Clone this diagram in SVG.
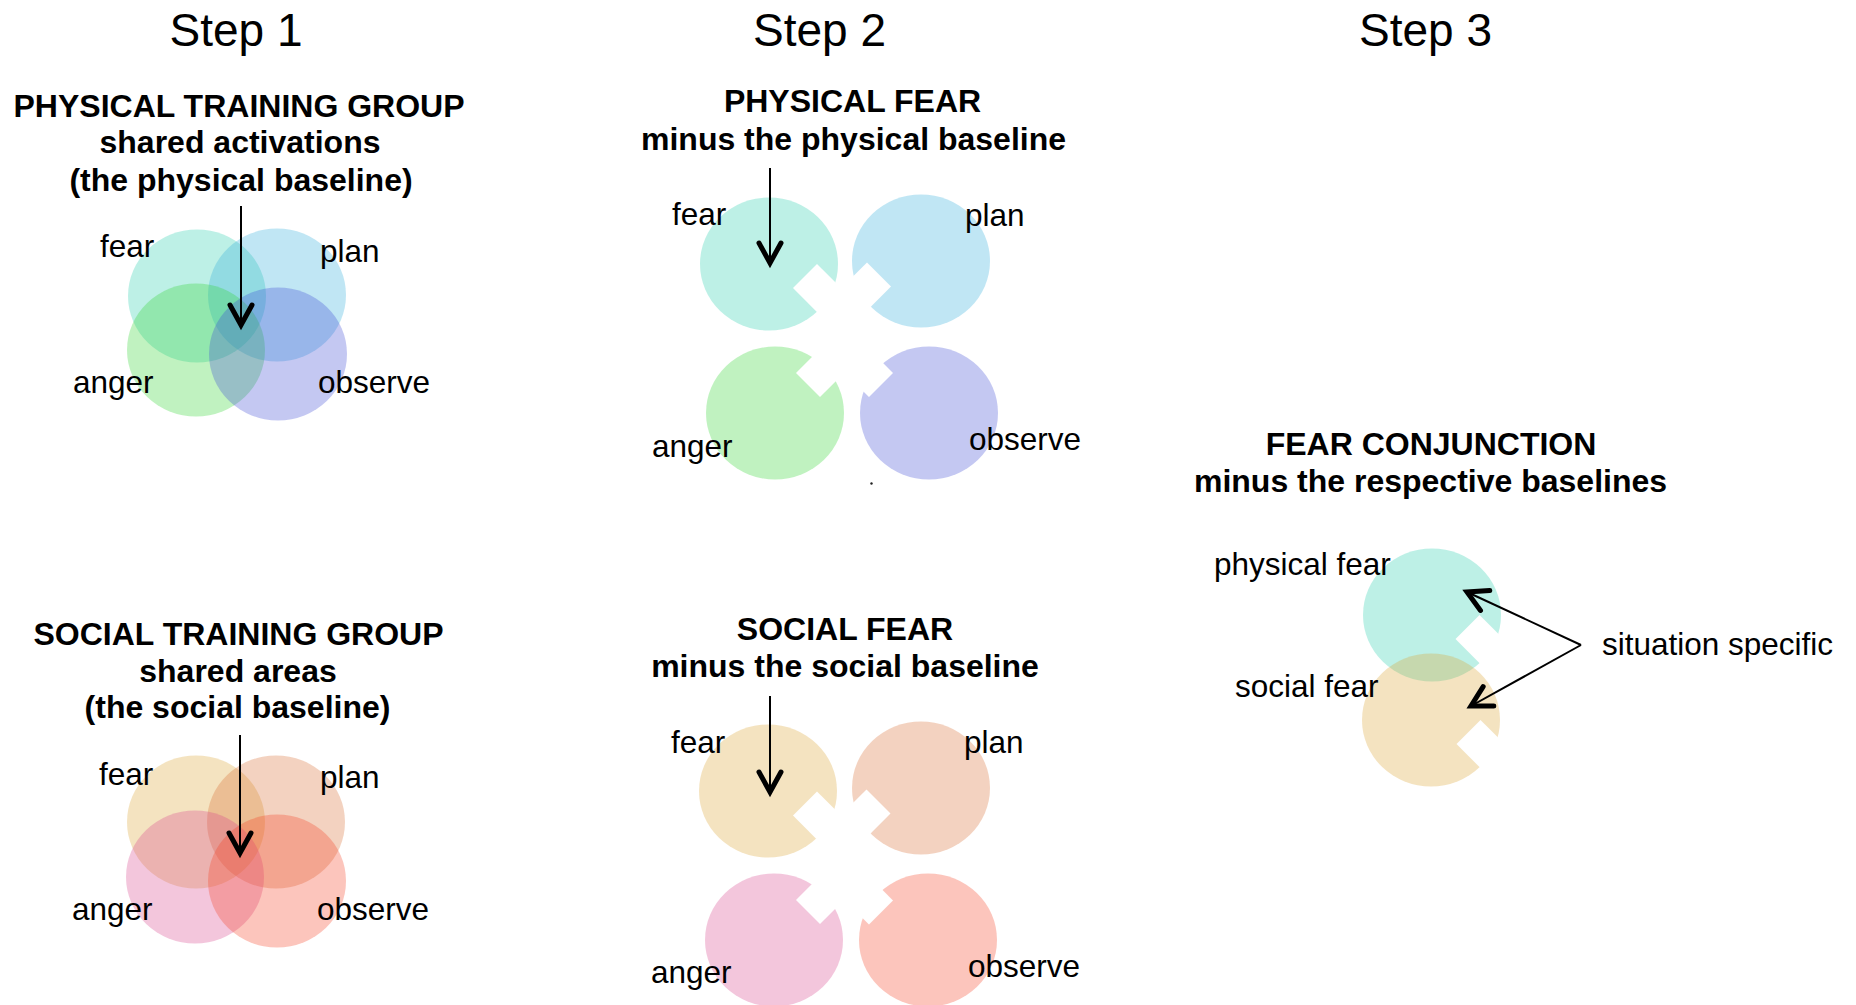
<svg xmlns="http://www.w3.org/2000/svg" width="1856" height="1005" viewBox="0 0 1856 1005">
<style>
text{font-family:"Liberation Sans",Arial,Helvetica,sans-serif;fill:#000}
.title{font-size:46px}
.head{font-size:32px;font-weight:bold;text-anchor:middle}
.lab{font-size:31.5px}
.c{fill-opacity:0.3}
.pf{fill:rgb(35,205,172)}
.pp{fill:rgb(45,172,218)}
.pa{fill:rgb(45,212,45)}
.po{fill:rgb(58,72,212)}
.sf{fill:rgb(218,162,45)}
.sp{fill:rgb(215,105,45)}
.sa{fill:rgb(215,65,138)}
.so{fill:rgb(245,62,32)}
.notch{fill:#fff}
.arr{fill:none;stroke:#000;stroke-width:2;marker-end:url(#vh)}
</style>
<defs>
<marker id="vh" markerUnits="userSpaceOnUse" markerWidth="40" markerHeight="40" viewBox="-30 -20 40 40" refX="0" refY="0" orient="auto" overflow="visible">
<path d="M-20,-11 L0,0 L-20,11" fill="none" stroke="#000" stroke-width="5" stroke-linecap="round" stroke-linejoin="miter"/>
</marker>
<rect id="nt" class="notch" x="0" y="-17" width="50" height="34"/>
</defs>
<rect width="1856" height="1005" fill="#fff"/>

<g id="titles">
<text class="title" x="236" y="46" text-anchor="middle">Step 1</text>
<text class="title" x="819.5" y="46" text-anchor="middle">Step 2</text>
<text class="title" x="1425.5" y="46" text-anchor="middle">Step 3</text>
</g>

<g id="step1-physical">
<text class="head" x="239" y="117">PHYSICAL TRAINING GROUP</text>
<text class="head" x="240" y="153">shared activations</text>
<text class="head" x="241" y="191">(the physical baseline)</text>
<ellipse class="c pf" cx="197" cy="296" rx="69" ry="66.5"/>
<ellipse class="c pp" cx="277" cy="295" rx="69" ry="66.5"/>
<ellipse class="c pa" cx="196" cy="350" rx="69" ry="66.5"/>
<ellipse class="c po" cx="278" cy="354" rx="69" ry="66.5"/>
<text class="lab" x="100" y="257">fear</text>
<text class="lab" x="320" y="262">plan</text>
<text class="lab" x="73" y="393">anger</text>
<text class="lab" x="318" y="393">observe</text>
</g>

<g id="step1-social">
<text class="head" x="238.5" y="645">SOCIAL TRAINING GROUP</text>
<text class="head" x="238" y="682">shared areas</text>
<text class="head" x="237.5" y="718">(the social baseline)</text>
<ellipse class="c sf" cx="196" cy="822" rx="69" ry="66.5"/>
<ellipse class="c sp" cx="276" cy="822" rx="69" ry="66.5"/>
<ellipse class="c sa" cx="195" cy="877" rx="69" ry="66.5"/>
<ellipse class="c so" cx="277" cy="881" rx="69" ry="66.5"/>
<text class="lab" x="99" y="785">fear</text>
<text class="lab" x="320" y="788">plan</text>
<text class="lab" x="72" y="920">anger</text>
<text class="lab" x="317" y="920">observe</text>
</g>

<g id="step2-physical">
<text class="head" x="852.5" y="112">PHYSICAL FEAR</text>
<text class="head" x="853.5" y="150">minus the physical baseline</text>
<ellipse class="c pf" cx="769" cy="264" rx="69" ry="66.5"/>
<ellipse class="c pp" cx="921" cy="261" rx="69" ry="66.5"/>
<ellipse class="c pa" cx="775" cy="413" rx="69" ry="66.5"/>
<ellipse class="c po" cx="929" cy="413" rx="69" ry="66.5"/>
<use href="#nt" transform="translate(805,276) rotate(45)"/>
<use href="#nt" transform="translate(879,274.5) rotate(135)"/>
<use href="#nt" transform="translate(808,385) rotate(-45)"/>
<use href="#nt" transform="translate(881,385) rotate(-135)"/>
<text class="lab" x="672" y="225">fear</text>
<text class="lab" x="965" y="226">plan</text>
<text class="lab" x="652" y="457">anger</text>
<text class="lab" x="969" y="450">observe</text>
<circle cx="871.5" cy="483.5" r="1.2" fill="#222"/>
</g>

<g id="step2-social">
<text class="head" x="845" y="640">SOCIAL FEAR</text>
<text class="head" x="845" y="677">minus the social baseline</text>
<ellipse class="c sf" cx="768" cy="791" rx="69" ry="66.5"/>
<ellipse class="c sp" cx="921" cy="788" rx="69" ry="66.5"/>
<ellipse class="c sa" cx="774" cy="940" rx="69" ry="66.5"/>
<ellipse class="c so" cx="928" cy="940" rx="69" ry="66.5"/>
<use href="#nt" transform="translate(805,803.5) rotate(45)"/>
<use href="#nt" transform="translate(878.5,801.5) rotate(135)"/>
<use href="#nt" transform="translate(808,912) rotate(-45)"/>
<use href="#nt" transform="translate(881,912.5) rotate(-135)"/>
<text class="lab" x="671" y="753">fear</text>
<text class="lab" x="964" y="753">plan</text>
<text class="lab" x="651" y="983">anger</text>
<text class="lab" x="968" y="977">observe</text>
</g>

<g id="step3">
<text class="head" x="1431" y="455">FEAR CONJUNCTION</text>
<text class="head" x="1430.5" y="492">minus the respective baselines</text>
<ellipse class="c pf" cx="1432" cy="615" rx="69" ry="66.5"/>
<use href="#nt" transform="translate(1467.5,627) rotate(45)"/>
<ellipse class="c sf" cx="1431" cy="720" rx="69" ry="66.5"/>
<use href="#nt" transform="translate(1468.5,732) rotate(45)"/>
<text class="lab" x="1214" y="575">physical fear</text>
<text class="lab" x="1235" y="697">social fear</text>
<text class="lab" x="1602" y="655">situation specific</text>
</g>

<g id="connectors">
<line class="arr" x1="241" y1="206" x2="241" y2="325"/>
<line class="arr" x1="240" y1="735" x2="240" y2="853"/>
<line class="arr" x1="770" y1="168" x2="770" y2="263"/>
<line class="arr" x1="770" y1="696" x2="770" y2="792"/>
<line class="arr" x1="1581" y1="645" x2="1467" y2="592"/>
<line class="arr" x1="1581" y1="645" x2="1471" y2="706"/>
</g>
</svg>
